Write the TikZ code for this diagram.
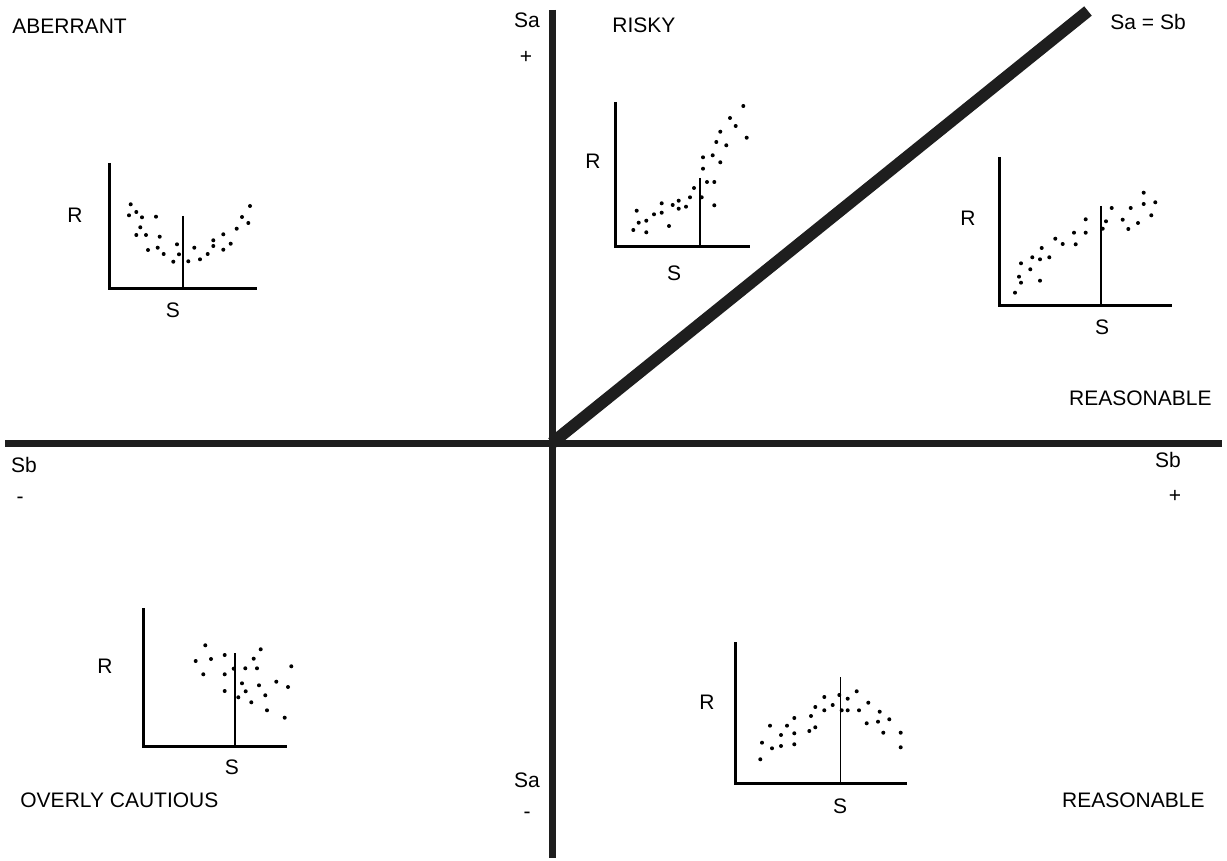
\documentclass[tikz,border=0pt]{standalone}
\usepackage{fontspec}
\setmainfont{Liberation Sans}
\usetikzlibrary{positioning}
\definecolor{axisline}{HTML}{1E1E1E}
\tikzset{
  mainaxis/.style = {line width=3.5pt, draw=axisline},
  diagaxis/.style = {line width=6pt, draw=axisline},
  plotaxis/.style = {line width=1.5pt, draw=black},
  midline/.style  = {line width=0.7pt, draw=black},
  lbl/.style      = {font=\fontsize{10.5}{12}\selectfont, inner sep=0pt},
  dot/.style      = {fill=black},
}

\begin{document}
\begin{tikzpicture}[x=0.5pt, y=-0.5pt]
    \useasboundingbox (0,0) rectangle (1227,861);
    % main axes
    \coordinate (west)  at (5,443);
    \coordinate (east)  at (1222,443);
    \coordinate (north) at (552,10);
    \coordinate (south) at (552,858);
    \coordinate (orig)  at (552,443);
    \coordinate (diag)  at (1088,11);
    \draw[mainaxis] (west) -- (east);
    \draw[mainaxis] (north) -- (south);
    \draw[diagaxis] (orig) -- (diag);

    % axis and quadrant labels
    \node[lbl, anchor=west] (aberrant) at (12,26)  {ABERRANT};
    \node[lbl, anchor=west] (risky)    at (612,25) {RISKY};
    \node[lbl, anchor=west] (sasb)     at (1110,22) {Sa = Sb};
    \node[lbl]              (satop)    at (527,20) {Sa};
    \node[lbl]              (satopsg)  at (526,57) {+};
    \node[lbl, anchor=east] (reastop)  at (1212,398) {REASONABLE};
    \node[lbl]              (sbleft)   at (24,465) {Sb};
    \node[lbl]              (sbleftsg) at (20,500) {-};
    \node[lbl]              (sbright)  at (1168,460) {Sb};
    \node[lbl]              (sbrightsg)at (1175,496) {+};
    \node[lbl]              (sabot)    at (527,780) {Sa};
    \node[lbl]              (sabotsg)  at (527,815) {-};
    \node[lbl, anchor=west] (cautious) at (20,800) {OVERLY CAUTIOUS};
    \node[lbl, anchor=east] (reasbot)  at (1205,800) {REASONABLE};

    % aberrant plot
    \draw[plotaxis] (109,163) -- (109,289) -- (257,289);
    \draw[midline] (183,216) -- (183,289);
    \node[lbl] (abR) at (75,215) {R};
    \node[lbl] (abS) at (173,310) {S};
    \foreach \x/\y in {130.7/204.3, 129/215.3, 136.3/212, 142/217.3, 156/216.7,
        140.3/227.3, 136.3/235, 146/235, 159.7/236.7, 148/250, 157.7/247.7,
        163.7/254, 177/244.3, 179/254.3, 173.3/261.7, 188.3/261.3, 194.3/247.7,
        200/259.3, 207.7/254, 213.3/240.3, 213.3/246, 223.3/234.3, 223.3/249.7,
        230.7/243.7, 236.7/228.7, 242/217, 248.3/223, 250/206}
        {\fill[dot] (\x,\y) circle[radius=1pt];}

    % risky plot
    \draw[plotaxis] (615,102) -- (615,247) -- (750,247);
    \draw[midline] (700,178) -- (700,247);
    \node[lbl] (rkR) at (593,161) {R};
    \node[lbl] (rkS) at (674,273) {S};
    \foreach \x/\y in {633.3/230, 636.7/210.7, 638.7/222.7, 646.3/220.7, 646.3/232.3,
        654/214.3, 661.7/203.3, 661.7/212.7, 669/226, 672.7/205, 678.7/200.7,
        678.7/208.7, 686/206.7, 690/197.3, 694/188, 701.7/197.3, 703/157.3,
        703/168.7, 707/182, 714.3/182, 714.3/205.3, 712.7/155.3, 716.3/142,
        720.3/162.3, 720.3/131.7, 726.3/145.3, 730/118, 735.7/126, 743.3/106,
        746.7/137.7}
        {\fill[dot] (\x,\y) circle[radius=1pt];}

    % reasonable plot, upper
    \draw[plotaxis] (999,157) -- (999,306) -- (1172,306);
    \draw[midline] (1101,206) -- (1101,306);
    \node[lbl] (ruR) at (968,218) {R};
    \node[lbl] (ruS) at (1102,327) {S};
    \foreach \x/\y in {1015/292.7, 1019/276.7, 1021/282.7, 1021/263.3, 1030.3/269.3,
        1032.3/257.3, 1040/280.7, 1040/259.3, 1041.7/248, 1049.3/257.3,
        1055.3/238.7, 1062.7/244, 1074/232.7, 1075.7/244.3, 1085.7/219.3,
        1085.7/232.7, 1102.7/228.7, 1106/221.3, 1111.7/208, 1122.7/219.7,
        1128.3/229, 1130.7/208, 1138/223, 1143.7/192.7, 1143.7/204,
        1151.3/215.3, 1155.3/202.3}
        {\fill[dot] (\x,\y) circle[radius=1pt];}

    % overly cautious plot
    \draw[plotaxis] (143,608) -- (143,746) -- (287,746);
    \draw[midline] (235,653) -- (235,746);
    \node[lbl] (ocR) at (105,666) {R};
    \node[lbl] (ocS) at (232,767) {S};
    \foreach \x/\y in {205.3/645.3, 195.7/661, 211/659, 224.7/655, 203.3/674.3,
        224.7/674.3, 233.7/668.7, 224.7/691, 242/683.3, 245.3/668.3, 245.7/691.3,
        238.3/697.3, 253.7/658.7, 257/668.3, 260.7/649.3, 259/685.3, 251.3/702.3,
        265.3/695.3, 267/710.3, 276.3/681.7, 288/687, 291.3/666.3, 284.7/717.7}
        {\fill[dot] (\x,\y) circle[radius=1pt];}

    % reasonable plot, lower
    \draw[plotaxis] (735,642) -- (735,783) -- (907,783);
    \draw[midline] (840.7,677) -- (840.7,783);
    \node[lbl] (rlR) at (707,702) {R};
    \node[lbl] (rlS) at (840,806) {S};
    \foreach \x/\y in {760.3/759.3, 762/742.7, 770/725.7, 772/748.3, 781/735,
        781/746, 787/725.7, 794.3/718, 794.3/733.3, 794.3/744.3, 809.3/731,
        811/716, 815.3/707, 815.3/727.3, 824.3/697, 824.3/710.3, 832.7/705,
        839.3/695, 841.7/710.3, 847.7/698.7, 847.7/710.3, 856.7/691.3, 859/710.3,
        868.3/702.7, 866.7/723.3, 878/721.7, 879.7/711.7, 883.3/732.7,
        889.3/719.3, 900.7/732.7, 900.7/747.3}
        {\fill[dot] (\x,\y) circle[radius=1pt];}
\end{tikzpicture}
\end{document}
